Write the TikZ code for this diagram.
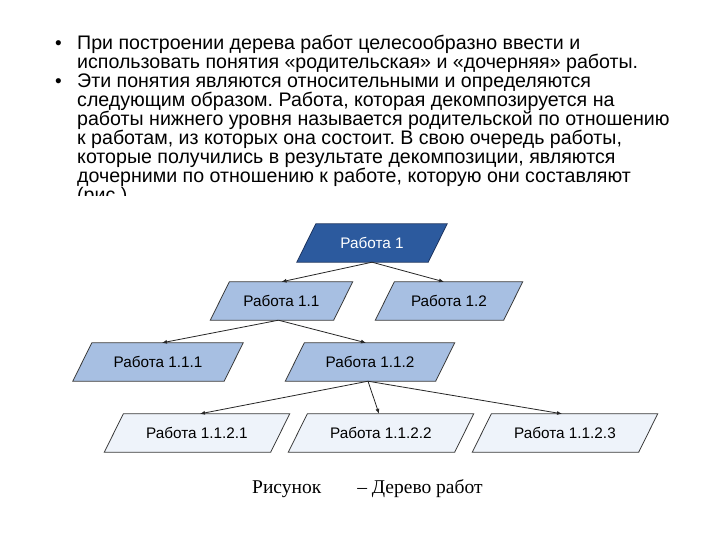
\documentclass[tikz,border=0pt]{standalone}
\usepackage{fontspec}
\setmainfont{Liberation Sans}
\newfontfamily\capfont{Liberation Serif}
\usetikzlibrary{arrows.meta}
\pgfdeclarelayer{background}
\pgfsetlayers{background,main}
\definecolor{topblue}{HTML}{2C5A9E}
\definecolor{topedge}{HTML}{1E3560}
\definecolor{midblue}{HTML}{A7BFE2}
\definecolor{lowblue}{HTML}{EEF3FA}
\definecolor{edgegray}{HTML}{3A3A3A}
\newcommand{\plgm}[2]{%
  \path[#2] ([xshift=-9.5pt]#1.south west) -- ([xshift=-9.5pt]#1.south east)
    -- ([xshift=9.5pt]#1.north east) -- ([xshift=9.5pt]#1.north west) -- cycle;}
\begin{document}
\frenchspacing
\begin{tikzpicture}[x=1pt,y=-1pt,
  txtline/.style={anchor=base west, inner sep=0pt, font=\fontsize{19.6}{20}\selectfont},
  bul/.style={anchor=base west, inner sep=0pt, font=\fontsize{19}{20}\selectfont},
  boxn/.style={rectangle, minimum height=38pt, inner sep=0pt, font=\fontsize{15.3}{16}\selectfont},
  fill1/.style={fill=topblue, draw=topedge, line width=0.8pt},
  fill2/.style={fill=midblue, draw=edgegray, line width=0.8pt},
  fill3/.style={fill=lowblue, draw=edgegray, line width=0.8pt},
  conn/.style={draw=black!85, line width=0.8pt, -{Latex[length=5pt,width=4pt]}}
]
\useasboundingbox (0,0) rectangle (720,540);

\begin{scope}
\clip (0,0) rectangle (720,196);
\node[bul] (b1) at (55,50) {•};
\node[txtline] (l1) at (77,50) {При построении дерева работ целесообразно ввести и};
\node[txtline] (l2) at (77,68.5) {использовать понятия «родительская» и «дочерняя» работы.};
\node[bul] (b2) at (55,88) {•};
\node[txtline] (l3) at (77,88) {Эти понятия являются относительными и определяются};
\node[txtline] (l4) at (77,107) {следующим образом. Работа, которая декомпозируется на};
\node[txtline] (l5) at (77,126) {работы нижнего уровня называется родительской по отношению};
\node[txtline] (l6) at (77,145) {к работам, из которых она состоит. В свою очередь работы,};
\node[txtline] (l7) at (77,164) {которые получились в результате декомпозиции, являются};
\node[txtline] (l8) at (77,183) {дочерними по отношению к работе, которую они составляют};
\node[txtline] (l9) at (77,202) {(рис.)};
\end{scope}

\node[boxn, minimum width=131pt, text=white] (r1) at (372,243) {Работа 1};
\node[boxn, minimum width=123pt] (r11) at (281.5,301) {Работа 1.1};
\node[boxn, minimum width=128pt] (r12) at (449,301) {Работа 1.2};
\node[boxn, minimum width=151pt] (r111) at (158,362) {Работа 1.1.1};
\node[boxn, minimum width=150pt] (r112) at (370,362) {Работа 1.1.2};
\node[boxn, minimum width=166pt] (r1121) at (197,433) {Работа 1.1.2.1};
\node[boxn, minimum width=166pt] (r1122) at (381,433) {Работа 1.1.2.2};
\node[boxn, minimum width=166pt] (r1123) at (565,433) {Работа 1.1.2.3};

\begin{pgfonlayer}{background}
\fill[white] (0,0) rectangle (720,540);
\plgm{r1}{fill1}
\plgm{r11}{fill2}
\plgm{r12}{fill2}
\plgm{r111}{fill2}
\plgm{r112}{fill2}
\plgm{r1121}{fill3}
\plgm{r1122}{fill3}
\plgm{r1123}{fill3}
\end{pgfonlayer}

\draw[conn] (r1.south) -- (r11.north);
\draw[conn] (r1.south) -- ([xshift=-5pt]r12.north);
\draw[conn] ([xshift=-3pt]r11.south) -- ([xshift=4pt]r111.north);
\draw[conn] ([xshift=-3pt]r11.south) -- ([xshift=-4pt]r112.north);
\draw[conn] ([xshift=-2pt]r112.south) -- ([xshift=3pt]r1121.north);
\draw[conn] ([xshift=-2pt]r112.south) -- ([xshift=-2pt]r1122.north);
\draw[conn] ([xshift=-2pt]r112.south) -- ([xshift=-3pt]r1123.north);

\node[anchor=base west, inner sep=0pt, font=\capfont\fontsize{19.5}{20}\selectfont] (cap) at (252,493) {Рисунок\hspace*{36pt}– Дерево работ};
\end{tikzpicture}
\end{document}
